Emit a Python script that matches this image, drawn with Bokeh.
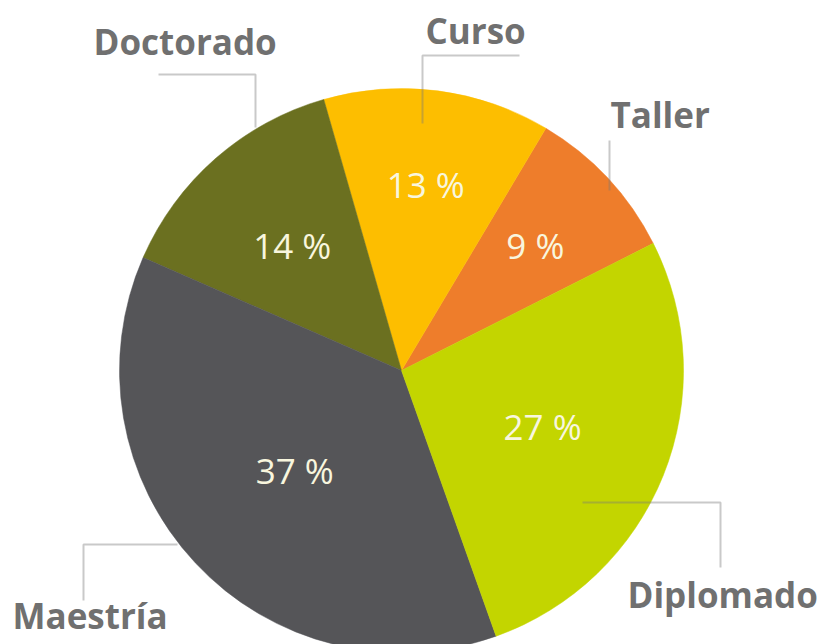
import numpy as np
from bokeh.plotting import figure
from bokeh.models import ColumnDataSource, Range1d
from bokeh.core.properties import value
from bokeh.embed import file_html
from bokeh.resources import INLINE

# ---- data ----
categories = ["Taller", "Curso", "Doctorado", "Maestría", "Diplomado"]
percents = [9, 13, 14, 37, 27]
colors = ["#EE7D2B", "#FDBE00", "#6B7020", "#555558", "#C3D500"]

# ---- layout ----
CX, CY = 401, 644 - 370      # pie centre (data = pixel coords, y flipped)
R = 282
START_DEG = 26.8
label_r = [183, 188, 166, 146, 152]

vals = np.array(percents, dtype=float)
fr = vals / vals.sum()
ends = np.deg2rad(START_DEG) + 2 * np.pi * np.cumsum(fr)
starts = ends - 2 * np.pi * fr
mids = (starts + ends) / 2
lx = CX + np.array(label_r) * np.cos(mids)
ly = CY + np.array(label_r) * np.sin(mids)

src = ColumnDataSource(dict(cat=categories, start=starts, end=ends, color=colors,
                            lx=lx, ly=ly, pct=[f"{v} %" for v in percents]))

p = figure(width=824, height=644, output_backend="svg", toolbar_location=None,
           x_range=Range1d(0, 824), y_range=Range1d(0, 644), min_border=0)
p.axis.visible = False
p.grid.visible = False
p.outline_line_color = None
p.background_fill_color = "white"
p.border_fill_color = "white"

p.wedge(x=CX, y=CY, radius=R, start_angle="start", end_angle="end",
        fill_color="color", line_color="color", line_width=0.5, source=src)

# leader lines (pixel coords -> data)
def Y(py):
    return 644 - py

leaders_x = [[158, 255, 255], [519, 422, 422], [609, 609], [582, 720, 720], [177, 83, 83]]
leaders_y = [[Y(74), Y(74), Y(127)], [Y(55), Y(55), Y(123)], [Y(140), Y(190)],
             [Y(502), Y(502), Y(567)], [Y(544), Y(544), Y(600)]]
p.multi_line(xs=leaders_x, ys=leaders_y, line_color="#777777", line_alpha=0.4, line_width=2)

p.text(x="lx", y="ly", text="pct", source=src, text_align="center", text_baseline="middle",
       text_font=value("Open Sans"), text_font_size="35px", text_font_style="normal",
       text_color="#F8F6DE")

out_lbl = ["Doctorado", "Curso", "Taller", "Diplomado", "Maestría"]
out_x = [93, 425, 610, 627, 12]
out_y = [Y(41), Y(30), Y(114), Y(594), Y(615)]
p.text(x=out_x, y=out_y, text=out_lbl, text_align="left", text_baseline="alphabetic",
       text_font=value("Open Sans"), text_font_size="35px", text_font_style="bold",
       text_color="#707070")

open("out.html", "w").write(file_html(p, INLINE))
